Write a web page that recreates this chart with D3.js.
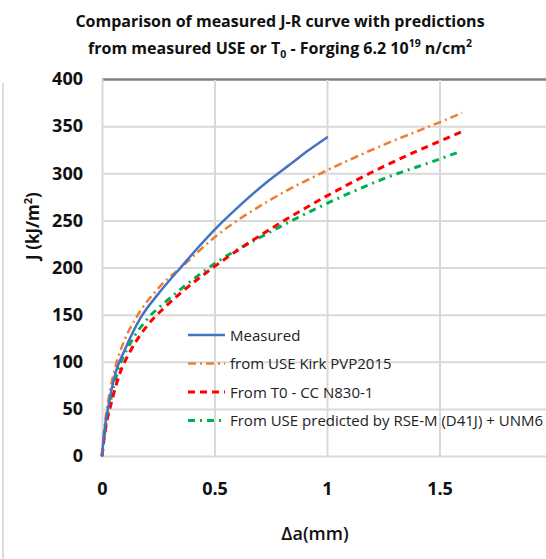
<!DOCTYPE html>
<html>
<head>
<meta charset="utf-8">
<script src="https://cdn.jsdelivr.net/npm/d3@7"></script>
<style>
  body { margin: 0; background: #fff; }
  svg { display: block; font-family: "Open Sans", "Liberation Sans", sans-serif; }
</style>
</head>
<body>
<script>
// J-R curve data (delta a in mm, J in kJ/m2)
const measured = [[0,0],[0.01,25],[0.03,55],[0.06,88],[0.1,112],[0.17,146],[0.25,172],[0.35,200],
                  [0.43,222],[0.5,240],[0.6,263],[0.74,292],[0.85,312],[0.91,323],[1.0,338]];
const kirk = [[0,0],[0.01,28],[0.03,62],[0.06,95],[0.1,123],[0.15,146],[0.25,178],[0.36,202],[0.5,232],
              [0.75,272],[1.0,303],[1.25,330],[1.5,354],[1.6,364]];
const fromT0 = [[0,0],[0.015,28],[0.04,55],[0.08,88],[0.13,113],[0.2,138],[0.28,158],[0.35,173],[0.5,201],
                [0.75,241],[1.0,276],[1.25,307],[1.5,334],[1.6,344]];
const rsem = [[0,0],[0.015,30],[0.035,55],[0.07,90],[0.12,117],[0.2,145],[0.28,163],[0.35,177],[0.5,204],
              [0.75,238],[1.0,268],[1.25,294],[1.5,315],[1.58,322]];

const seriesNames = ["Measured", "from USE Kirk PVP2015", "From T0 - CC N830-1",
                     "From USE predicted by RSE-M (D41J) + UNM6"];
const seriesData = [measured, kirk, fromT0, rsem];
const colors = ["#4472C4", "#ED7D31", "#FF0000", "#00B050"];
const dashes = [null, "8,4,2,4", "7,5", "7,5,2,5"];
const widths = [2.5, 2.5, 3, 3];

const xTicks = [0, 0.5, 1, 1.5, 2];
const yTicks = [0, 50, 100, 150, 200, 250, 300, 350, 400];

const W = 546, H = 559;
const margin = {top: 79, left: 102};
const plotW = 450, plotH = 377;

const svg = d3.select("body").append("svg")
    .attr("width", W)
    .attr("height", H);

// outer chart border fragment on the left
svg.append("line")
    .attr("x1", 3).attr("x2", 3).attr("y1", 83).attr("y2", H)
    .attr("stroke", "#dcdcdc").attr("stroke-width", 2);

// title
const title = svg.append("text")
    .attr("text-anchor", "middle")
    .attr("font-size", 16)
    .attr("font-weight", 700)
    .attr("fill", "#111");
title.append("tspan").attr("x", 280).attr("y", 27)
    .text("Comparison of measured J-R curve with predictions");
const t2 = title.append("tspan").attr("x", 280).attr("y", 54);
t2.append("tspan").text("from measured USE or T");
t2.append("tspan").attr("font-size", 10.5).attr("dy", 4).text("0");
t2.append("tspan").attr("dy", -4).text(" - Forging 6.2 10");
t2.append("tspan").attr("font-size", 10.5).attr("dy", -7).text("19");
t2.append("tspan").attr("dy", 7).text(" n/cm");
t2.append("tspan").attr("font-size", 10.5).attr("dy", -7).text("2");

const g = svg.append("g")
    .attr("transform", `translate(${margin.left},${margin.top})`);

const x = d3.scaleLinear().domain([0, 2]).range([0, plotW]);
const y = d3.scaleLinear().domain([0, 400]).range([plotH, 0]);

// gridlines
g.append("g")
    .call(d3.axisLeft(y).tickValues(yTicks).tickSize(-plotW).tickFormat(""))
    .call(a => a.select(".domain").remove())
    .call(a => a.selectAll(".tick line")
        .attr("stroke", d => d === 400 ? "#808080" : "#d9d9d9")
        .attr("stroke-width", d => d === 400 ? 2.5 : 2));
g.append("g")
    .attr("transform", `translate(0,${plotH})`)
    .call(d3.axisBottom(x).tickValues(xTicks).tickSize(-plotH).tickFormat(""))
    .call(a => a.select(".domain").remove())
    .call(a => a.selectAll(".tick line")
        .attr("stroke", "#d9d9d9").attr("stroke-width", 2)
        .attr("y2", d => d === 0 ? -plotH : -plotH + 1));

// tick labels
const yAxis = g.append("g")
    .call(d3.axisLeft(y).tickValues(yTicks).tickSize(0).tickPadding(19));
yAxis.select(".domain").remove();
yAxis.selectAll(".tick text")
    .attr("font-size", 18).attr("font-weight", 700).attr("fill", "#111")
    .attr("font-family", "Open Sans, sans-serif");

const xAxis = g.append("g")
    .attr("transform", `translate(0,${plotH})`)
    .call(d3.axisBottom(x).tickValues(xTicks).tickSize(0).tickPadding(26)
        .tickFormat(d => String(d)));
xAxis.select(".domain").remove();
xAxis.selectAll(".tick text")
    .attr("font-size", 18).attr("font-weight", 700).attr("fill", "#111")
    .attr("font-family", "Open Sans, sans-serif");

// axis titles
svg.append("text")
    .attr("x", 315).attr("y", 540)
    .attr("text-anchor", "middle")
    .attr("font-size", 18).attr("font-weight", 600).attr("fill", "#111")
    .text("\u0394a(mm)");

const yt = svg.append("text")
    .attr("transform", "translate(39,226) rotate(-90)")
    .attr("text-anchor", "middle")
    .attr("font-size", 17).attr("font-weight", 700).attr("fill", "#111");
yt.append("tspan").text("J (kJ/m");
yt.append("tspan").attr("font-size", 11).attr("dy", -7).text("2");
yt.append("tspan").attr("dy", 7).text(")");

// curves
const line = d3.line()
    .x(d => x(d[0]))
    .y(d => y(d[1]))
    .curve(d3.curveMonotoneX);

// draw predictions first, measured on top
[3, 2, 1, 0].forEach(i => {
  g.append("path")
      .datum(seriesData[i])
      .attr("fill", "none")
      .attr("stroke", colors[i])
      .attr("stroke-width", widths[i])
      .attr("stroke-dasharray", dashes[i])
      .attr("stroke-linecap", i === 0 ? "round" : "butt")
      .attr("d", line);
});

// legend
const legend = svg.append("g").attr("transform", "translate(188,335)");
seriesNames.forEach((name, i) => {
  const row = legend.append("g").attr("transform", `translate(0,${i * 28.5})`);
  row.append("line")
      .attr("x1", 0).attr("x2", 37).attr("y1", 0).attr("y2", 0)
      .attr("stroke", colors[i])
      .attr("stroke-width", widths[i])
      .attr("stroke-dasharray", dashes[i]);
  row.append("text")
      .attr("x", 42).attr("y", 5.5)
      .attr("font-size", 15).attr("fill", "#222")
      .text(name);
});
</script>
</body>
</html>
